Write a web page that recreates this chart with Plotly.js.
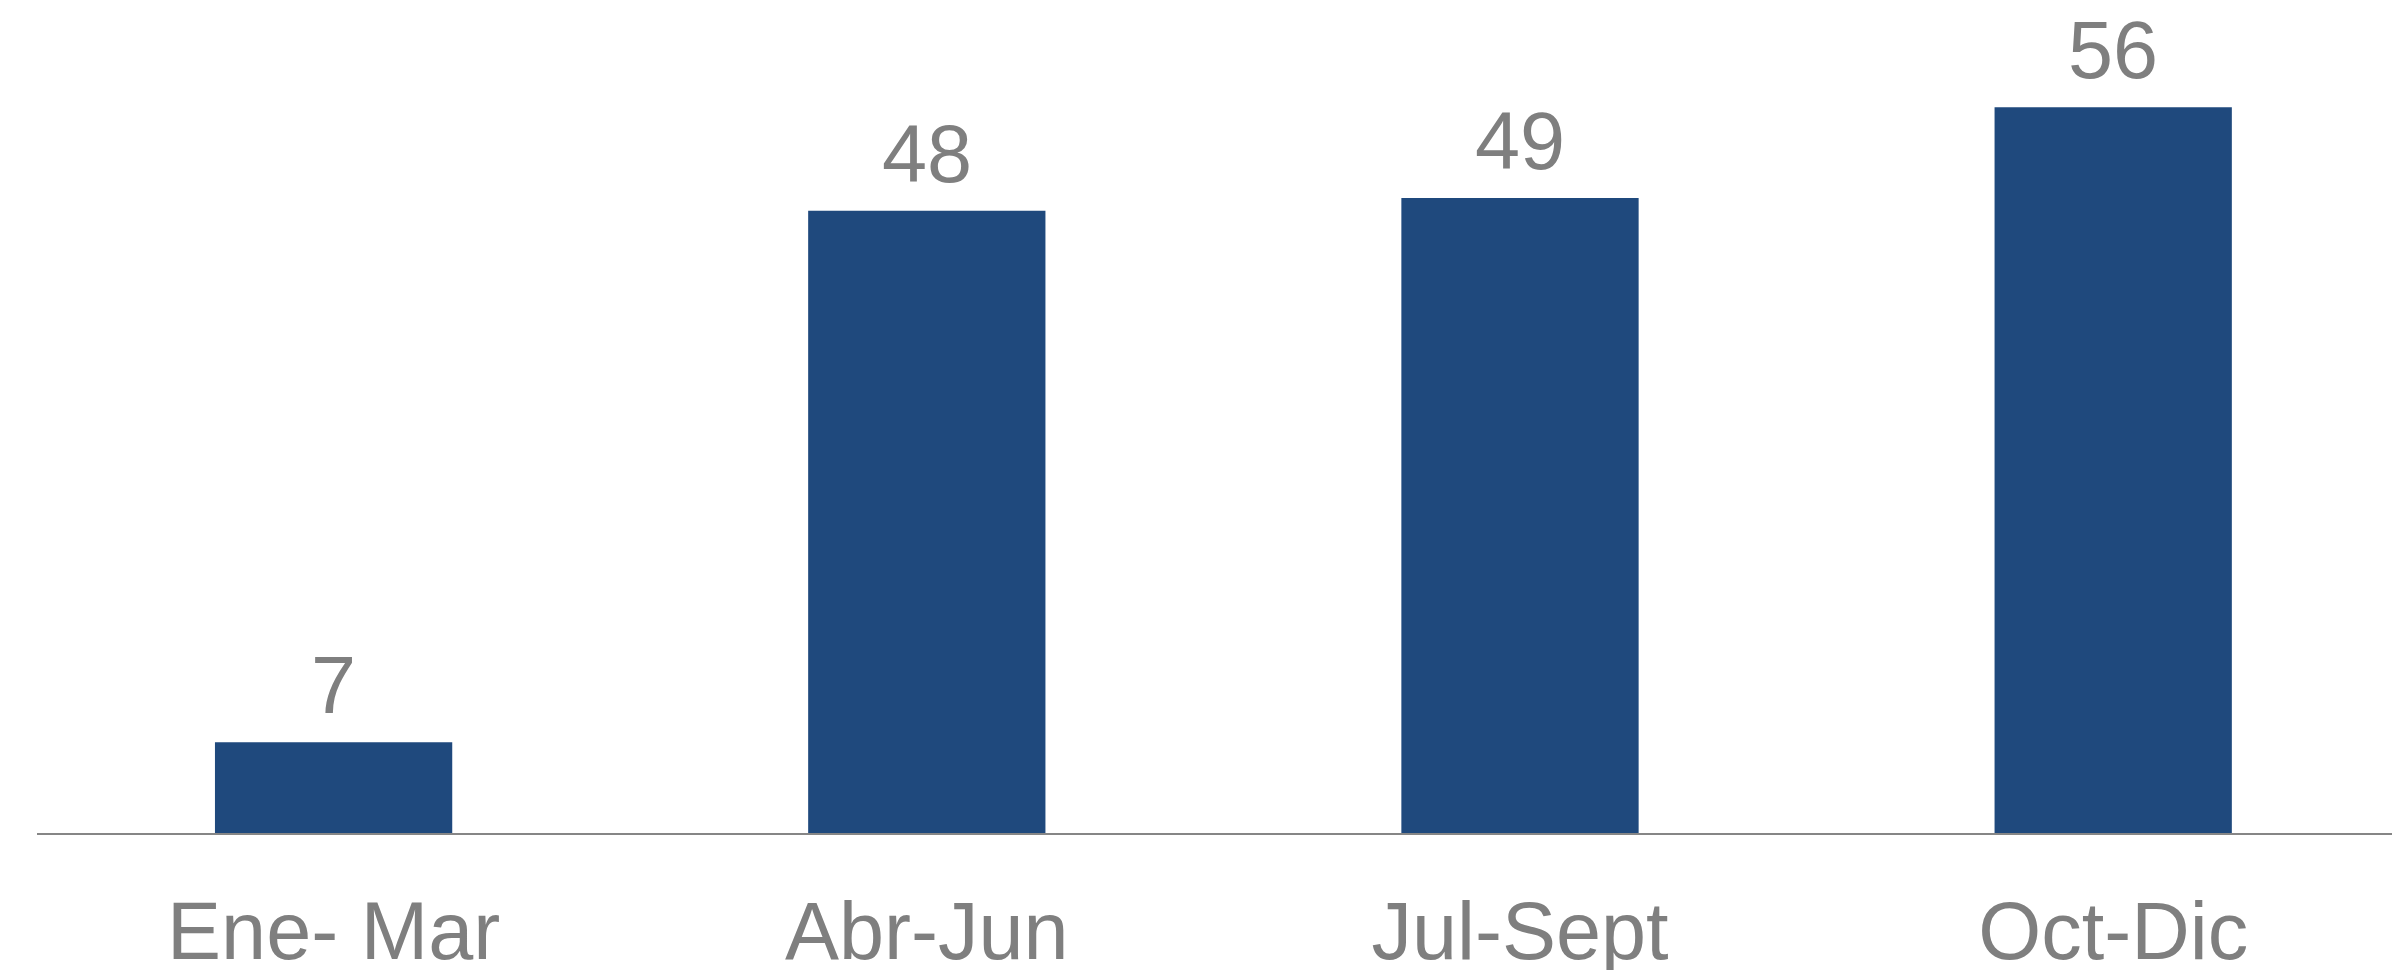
<!DOCTYPE html>
<html>
<head>
<meta charset="utf-8">
<script src="https://cdn.plot.ly/plotly-3.0.1.min.js"></script>
<style>
  html, body { margin: 0; padding: 0; background: #ffffff; }
  #chart { width: 2392px; height: 970px; }
</style>
</head>
<body>
<div id="chart"></div>
<script>
const categories = ["Ene- Mar", "Abr-Jun", "Jul-Sept", "Oct-Dic"];
const values = [7, 48, 49, 56];
const valueLabels = ["7", "48", "49", "56"];

const FONT = "Liberation Sans, Arial, sans-serif";

const trace = {
  type: "bar",
  x: categories,
  y: values,
  marker: { color: "#1F497D", line: { width: 0 } },
  width: 0.4,
  hoverinfo: "none"
};

const annotations = categories.map((c, i) => ({
  x: c,
  y: values[i],
  xref: "x",
  yref: "y",
  text: valueLabels[i],
  showarrow: false,
  xanchor: "center",
  yanchor: "bottom",
  yshift: 10,
  font: { family: FONT, size: 81, color: "#7F7F7F" }
}));

const layout = {
  width: 2392,
  height: 970,
  margin: { l: 37, r: 0, t: 0, b: 137 },
  paper_bgcolor: "#ffffff",
  plot_bgcolor: "#ffffff",
  showlegend: false,
  font: { family: FONT, color: "#7F7F7F" },
  annotations: annotations,
  xaxis: {
    type: "category",
    range: [-0.5, 3.47],
    showline: true,
    linecolor: "#868686",
    linewidth: 2,
    showgrid: false,
    zeroline: false,
    ticks: "outside",
    ticklen: 27,
    tickcolor: "rgba(0,0,0,0)",
    tickfont: { family: FONT, size: 81, color: "#7F7F7F" }
  },
  yaxis: {
    range: [0, 64.27],
    visible: false,
    showgrid: false,
    zeroline: false
  }
};

Plotly.newPlot("chart", [trace], layout, { displayModeBar: false, staticPlot: true });
</script>
</body>
</html>
